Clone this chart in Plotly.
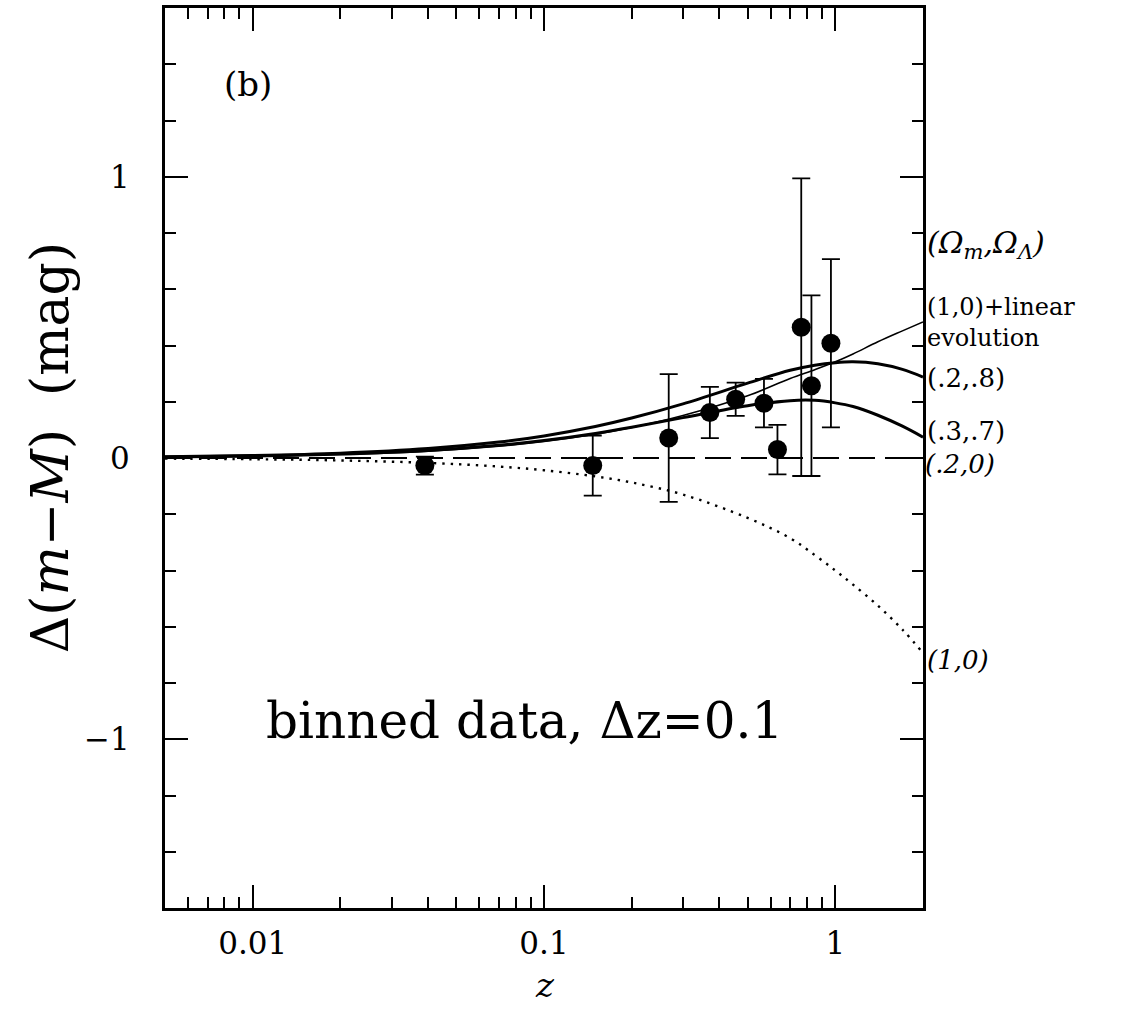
import plotly.graph_objects as go

# ---- binned data ----
z_data = [0.039, 0.147, 0.268, 0.371, 0.455, 0.569, 0.633, 0.764, 0.828, 0.966]
dm_data = [-0.027, -0.027, 0.071, 0.162, 0.209, 0.195, 0.030, 0.465, 0.257, 0.408]
dm_err = [0.032, 0.107, 0.227, 0.091, 0.059, 0.086, 0.088, 0.529, 0.321, 0.299]

# ---- model curves ----
z_curve = [0.005, 0.01, 0.02, 0.04, 0.07, 0.1, 0.15, 0.2, 0.3, 0.5, 0.7, 0.85, 1.0, 1.15, 1.4, 1.7, 2.0]
m_28 = [0.0043, 0.0086, 0.017, 0.0334, 0.0566, 0.0785, 0.112, 0.142, 0.1925, 0.266, 0.312, 0.330, 0.339, 0.342, 0.335, 0.315, 0.288]
m_37 = [0.0035, 0.007, 0.0139, 0.0268, 0.0452, 0.0621, 0.0873, 0.1091, 0.1436, 0.186, 0.204, 0.205, 0.196, 0.183, 0.152, 0.113, 0.074]
m_lin = [0.0031, 0.0063, 0.0125, 0.0246, 0.0421, 0.0586, 0.0844, 0.1083, 0.151, 0.221, 0.283, 0.314, 0.342, 0.370, 0.413, 0.452, 0.484]
m_10 = [-0.0022, -0.0043, -0.0087, -0.0174, -0.0304, -0.0435, -0.0653, -0.087, -0.130, -0.213, -0.285, -0.345, -0.400, -0.450, -0.525, -0.610, -0.693]
z_ref = [0.005, 2.0]
m_ref = [0.0, 0.0]

x_ticks = [0.01, 0.1, 1]
x_ticklabels = ["0.01", "0.1", "1"]
x_minor = [0.006, 0.007, 0.008, 0.009,
           0.02, 0.03, 0.04, 0.05, 0.06, 0.07, 0.08, 0.09,
           0.2, 0.3, 0.4, 0.5, 0.6, 0.7, 0.8, 0.9, 2.0]
y_ticks = [-1, 0, 1]
y_ticklabels = ["\u22121", "0", "1"]

FONT = "DejaVu Serif"

fig = go.Figure()

fig.add_trace(go.Scatter(x=z_ref, y=m_ref, mode="lines",
                         line=dict(color="black", width=1.8, dash="26px,10px")))
fig.add_trace(go.Scatter(x=z_curve, y=m_10, mode="lines", line_shape="spline",
                         line=dict(color="black", width=2.4, dash="2.4px,6px")))
fig.add_trace(go.Scatter(x=z_curve, y=m_lin, mode="lines", line_shape="spline",
                         line=dict(color="black", width=1.6)))
fig.add_trace(go.Scatter(x=z_curve, y=m_37, mode="lines", line_shape="spline",
                         line=dict(color="black", width=3)))
fig.add_trace(go.Scatter(x=z_curve, y=m_28, mode="lines", line_shape="spline",
                         line=dict(color="black", width=3)))
fig.add_trace(go.Scatter(x=z_data, y=dm_data, mode="markers",
                         marker=dict(color="black", size=19),
                         error_y=dict(type="data", array=dm_err, visible=True,
                                      color="black", thickness=1.8, width=9)))

axis_common = dict(showgrid=False, zeroline=False, showline=True, linecolor="black",
                   linewidth=3, mirror="allticks", ticks="inside", tickcolor="black",
                   tickwidth=2, ticklen=23,
                   tickfont=dict(family=FONT, size=31, color="black"))

fig.update_xaxes(type="log", range=[-2.30103, 0.30103],
                 tickvals=x_ticks, ticktext=x_ticklabels,
                 minor=dict(tickvals=x_minor, ticks="inside", ticklen=11,
                            tickwidth=2, tickcolor="black", showgrid=False),
                 ticklabelstandoff=6,
                 **axis_common)
fig.update_yaxes(range=[-1.6, 1.6], tickvals=y_ticks, ticktext=y_ticklabels,
                 minor=dict(dtick=0.2, ticks="inside", ticklen=11,
                            tickwidth=2, tickcolor="black", showgrid=False),
                 ticklabelstandoff=26,
                 **axis_common)

ann = []
def A(text, x, y, size, xref="paper", yref="y", xanchor="left", **kw):
    ann.append(dict(text=text, x=x, y=y, xref=xref, yref=yref, xanchor=xanchor,
                    yanchor="middle", showarrow=False,
                    font=dict(family=FONT, size=size, color="black"), **kw))

A("(b)", 0.1095, 0.915, 34, yref="paper", xanchor="center")
A("binned data, \u0394z=0.1", 0.474, -0.936, 50, xanchor="center")
A("<i>(\u03a9<sub>m</sub>,\u03a9<sub>\u039b</sub>)</i>", 1.003, 0.76, 30)
A("(1,0)+linear<br>evolution", 1.003, 0.481, 24, align="left")
A("(.2,.8)", 1.003, 0.284, 26)
A("(.3,.7)", 1.003, 0.097, 26)
A("<i>(.2,0)</i>", 1.0, -0.022, 26)
A("<i>(1,0)</i>", 1.003, -0.717, 26)
A("\u0394(<i>m</i>\u2212<i>M</i>)  (mag)", -0.152, 0.5116, 52, yref="paper",
  xanchor="center", textangle=-90)
A("<i>z</i>", 0.501, -0.085, 34, yref="paper", xanchor="center")

fig.update_layout(width=1132, height=1013, showlegend=False,
                  plot_bgcolor="white", paper_bgcolor="white",
                  margin=dict(l=165, r=209, t=5, b=105),
                  annotations=ann)

fig.write_html("out.html")
